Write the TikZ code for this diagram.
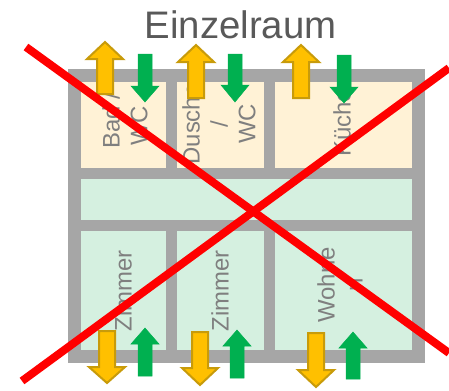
\documentclass[tikz,border=0pt]{standalone}
\usepackage{fontspec}
\setmainfont{Liberation Sans}
\definecolor{wall}{HTML}{A6A6A6}
\definecolor{wet}{HTML}{FFF2D6}
\definecolor{dry}{HTML}{D5F0E0}
\definecolor{orangefill}{HTML}{FFC000}
\definecolor{orangeedge}{HTML}{C89B0A}
\definecolor{greenfill}{HTML}{00B050}
\definecolor{labelgray}{HTML}{7F7F7F}
\definecolor{titlegray}{HTML}{595959}
\newcommand{\flowarrow}[6]{% style, centre x, tail y, head-base y, tip y, shaft half width
  \draw[#1] (#2-#6,#3) -- (#2-#6,#4) -- (#2-#6*1.0-\headextra,#4) -- (#2,#5) -- (#2+#6+\headextra,#4) -- (#2+#6,#4) -- (#2+#6,#3) -- cycle;}
\newcommand{\headextra}{10}
\tikzset{
  roomlabel/.style={rotate=90,align=center,inner sep=0pt,text=labelgray,font=\fontsize{24}{28}\selectfont},
  airout/.style={draw=orangeedge,line width=2bp,fill=orangefill,miter limit=10},
  airin/.style={draw=greenfill,line width=0.5bp,fill=greenfill},
  cross/.style={draw=red,line width=8bp}
}
\begin{document}
\begin{tikzpicture}[x=1bp,y=-1bp]
\useasboundingbox (0,0) rectangle (449,390);
\fill[white] (0,0) rectangle (449,390);
\node[anchor=base,inner sep=0pt,text=titlegray,font=\fontsize{38.5}{44}\selectfont] (title) at (240.5,38.5) {Einzelraum};
\fill[wall] (68,69) rectangle (425,363);
\fill[wet] (81,82) rectangle (166,168);
\fill[wet] (177,82) rectangle (264,168);
\fill[wet] (275,82) rectangle (412,168);
\fill[dry] (81,179) rectangle (412,220);
\fill[dry] (81,231) rectangle (166,350);
\fill[dry] (177,231) rectangle (264,350);
\fill[dry] (275,231) rectangle (412,350);
\node[roomlabel,align=left] (bad) at (125,120.5) {Bad /\\\hspace*{2.5bp}WC};
\node[roomlabel] (dusche) at (219,124) {Dusche\\/\\WC};
\node[roomlabel] (kueche) at (342,123) {Küche};
\node[roomlabel] (zimmera) at (123,291) {Zimmer};
\node[roomlabel] (zimmerb) at (220,291) {Zimmer};
\node[roomlabel] (wohnen) at (340,285) {Wohne\\n};
\flowarrow{airout}{105}{94}{59}{42}{8}
\flowarrow{airout}{196}{98}{62}{45}{8}
\flowarrow{airout}{301}{98}{62}{45}{8}
\flowarrow{airout}{107}{331}{367}{383}{8}
\flowarrow{airout}{200}{332}{368}{385}{8}
\flowarrow{airout}{316}{333}{370}{387}{8}
\renewcommand{\headextra}{7}
\flowarrow{airin}{145}{54}{86}{102}{7}
\flowarrow{airin}{235}{54}{85}{102}{7}
\flowarrow{airin}{344}{55}{87}{103}{7}
\flowarrow{airin}{145}{376}{344}{328}{7}
\flowarrow{airin}{237}{378}{346}{330}{7}
\flowarrow{airin}{353}{379}{348}{332}{7}
\coordinate (crossa) at (26,47);
\coordinate (crossb) at (449,353);
\coordinate (crossc) at (22,381);
\coordinate (crossd) at (449,68);
\draw[cross] (crossa) -- (crossb);
\draw[cross] (crossc) -- (crossd);
\end{tikzpicture}
\end{document}
